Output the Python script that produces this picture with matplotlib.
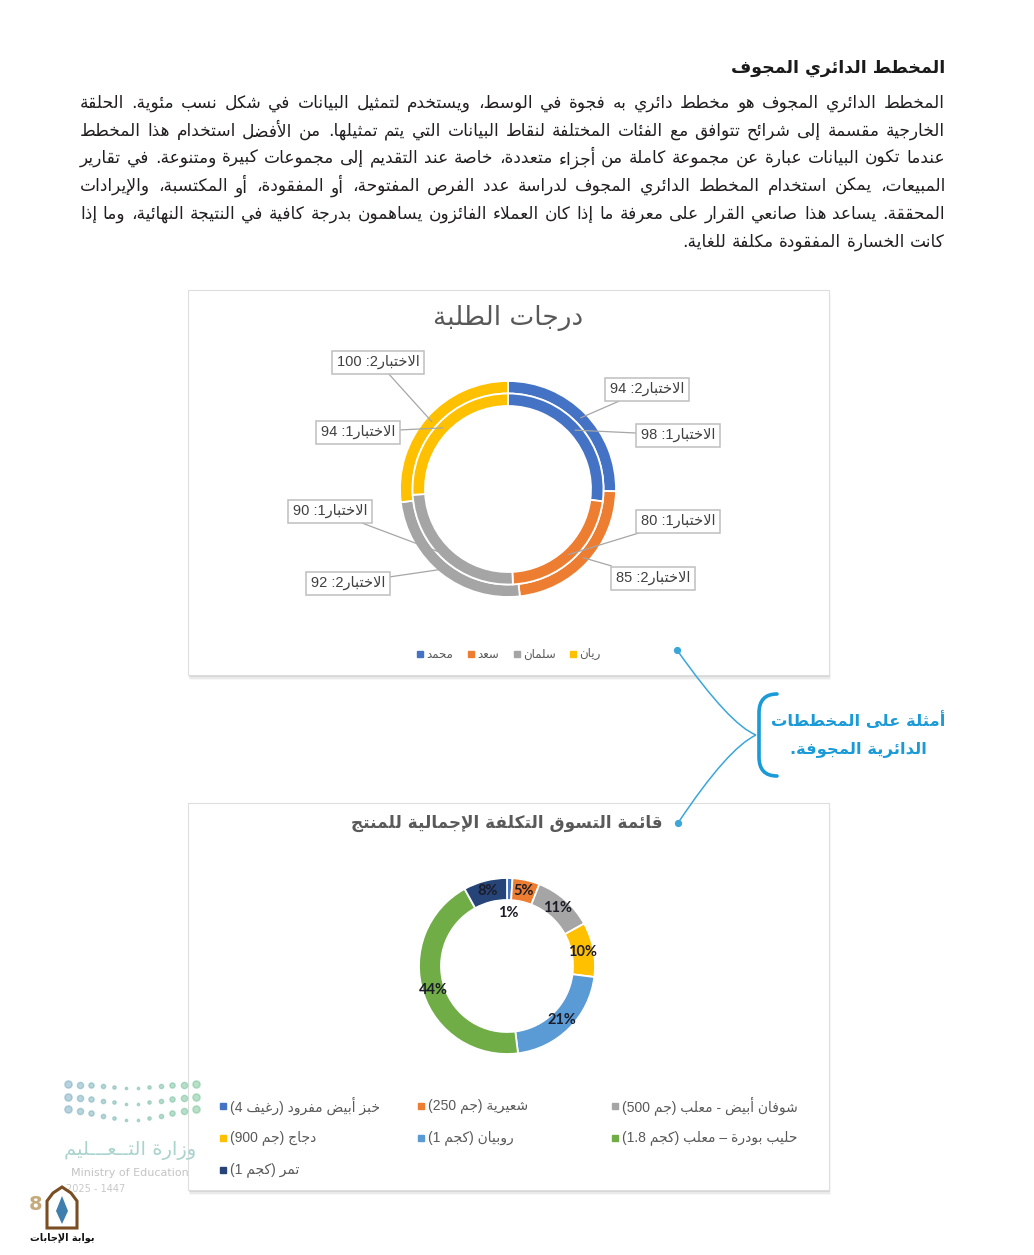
import re
import unicodedata
import numpy as np
import matplotlib
matplotlib.use("Agg")
import matplotlib.pyplot as plt
from matplotlib.patches import Rectangle, PathPatch, Polygon
from matplotlib.path import Path
from matplotlib.font_manager import FontProperties

W, H = 1034, 1255

# ---------------- data ----------------
heading = "المخطط الدائري المجوف"
paragraph_lines = [
    "المخطط الدائري المجوف هو مخطط دائري به فجوة في الوسط، ويستخدم لتمثيل البيانات في شكل نسب مئوية. الحلقة",
    "الخارجية مقسمة إلى شرائح تتوافق مع الفئات المختلفة لنقاط البيانات التي يتم تمثيلها. من الأفضل استخدام هذا المخطط",
    "عندما تكون البيانات عبارة عن مجموعة كاملة من أجزاء متعددة، خاصة عند التقديم إلى مجموعات كبيرة ومتنوعة. في تقارير",
    "المبيعات، يمكن استخدام المخطط الدائري المجوف لدراسة عدد الفرص المفتوحة، أو المفقودة، أو المكتسبة، والإيرادات",
    "المحققة. يساعد هذا صانعي القرار على معرفة ما إذا كان العملاء الفائزون يساهمون بدرجة كافية في النتيجة النهائية، وما إذا",
    "كانت الخسارة المفقودة مكلفة للغاية.",
]

grades_title = "درجات الطلبة"
students = ["محمد", "سعد", "سلمان", "ريان"]
test1 = [98, 80, 90, 94]
test2 = [94, 85, 92, 100]
student_colors = ["#4472C4", "#ED7D31", "#A5A5A5", "#FFC000"]

shopping_title = "قائمة التسوق التكلفة الإجمالية للمنتج"
items = ["خبز أبيض مفرود (رغيف 4)", "شعيرية (جم 250)", "شوفان أبيض - معلب (جم 500)",
         "دجاج (جم 900)", "روبيان (كجم 1)", "حليب بودرة – معلب (كجم 1.8)", "تمر (كجم 1)"]
cost_share = [1, 5, 11, 10, 21, 44, 8]
item_colors = ["#4472C4", "#ED7D31", "#A5A5A5", "#FFC000", "#5B9BD5", "#70AD47", "#264478"]

callout_lines = ["أمثلة على المخططات", "الدائرية المجوفة."]

# ---------------- arabic shaping (no bidi lib available) ----------------
_RJ = dict(zip("آأؤإاةدذرزوى", [0xFE81, 0xFE83, 0xFE85, 0xFE87, 0xFE8D, 0xFE93,
                                0xFEA9, 0xFEAB, 0xFEAD, 0xFEAF, 0xFEED, 0xFEEF]))
_DJ = dict(zip("ئبتثجحخسشصضطظعغفقكلمنهي",
               [0xFE89, 0xFE8F, 0xFE95, 0xFE99, 0xFE9D, 0xFEA1, 0xFEA5, 0xFEB1, 0xFEB5,
                0xFEB9, 0xFEBD, 0xFEC1, 0xFEC5, 0xFEC9, 0xFECD, 0xFED1, 0xFED5, 0xFED9,
                0xFEDD, 0xFEE1, 0xFEE5, 0xFEE9, 0xFEF1]))
_LA = {"آ": 0xFEF5, "أ": 0xFEF7, "إ": 0xFEF9, "ا": 0xFEFB}
_MIRROR = str.maketrans("()", ")(")


def shape(s):
    s = unicodedata.normalize("NFC", s)
    out, prev, i = [], False, 0
    while i < len(s):
        c = s[i]
        nx = s[i + 1] if i + 1 < len(s) else ""
        if c == "ل" and nx in _LA:
            out.append(chr(_LA[nx] + prev))
            prev = False
            i += 2
            continue
        if c in _DJ:
            joins_next = nx in _DJ or nx in _RJ or nx == "ـ"
            out.append(chr(_DJ[c] + prev + 2 * joins_next))
            prev = True
        elif c in _RJ:
            out.append(chr(_RJ[c] + prev))
            prev = False
        elif c == "ـ":
            out.append(c)
            prev = True
        else:
            out.append(c)
            prev = False
        i += 1
    return "".join(out)


def ar(s):
    parts = re.split(r"([0-9][0-9.%]*)", shape(s))
    vis = []
    for p in reversed(parts):
        if re.fullmatch(r"[0-9][0-9.%]*", p):
            vis.append(p)
        else:
            vis.append(p[::-1].translate(_MIRROR))
    return "".join(vis)


def Y(py):
    return H - py


AR = "DejaVu Sans"
LBL = ["Liberation Sans", "DejaVu Sans"]

fig = plt.figure(figsize=(W / 100, H / 100), dpi=100)
ax = fig.add_axes([0, 0, 1, 1])
rend = fig.canvas.get_renderer()


def text_w(s, fp):
    return rend.get_text_width_height_descent(s, fp, ismath=False)[0]


# ---------------- heading + justified paragraph ----------------
ax.text(945, Y(68), ar(heading), ha="right", va="center", fontsize=12.5,
        fontweight="bold", family=AR, color="#1a1a1a")

body = 12.5
fp = FontProperties(family=AR, size=body)
longest = max(text_w(ar(l), fp) for l in paragraph_lines)
if longest > 858:
    body *= 858 / longest
    fp = FontProperties(family=AR, size=body)
space = text_w(" ", fp)
line_y = [103, 131, 158, 186, 214, 242]
for k, line in enumerate(paragraph_lines):
    words = [ar(w) for w in line.split(" ")]
    ws = [text_w(w, fp) for w in words]
    gap = space if k == len(paragraph_lines) - 1 else (865 - sum(ws)) / (len(words) - 1)
    x = 945
    for w, wd in zip(words, ws):
        ax.text(x, Y(line_y[k]), w, ha="right", va="center", fontproperties=fp, color="#231f20")
        x -= wd + gap


# ---------------- cards ----------------
def card(x0, y0, x1, y1):
    for k, a in [(5, 0.03), (3.5, 0.05), (2, 0.08)]:
        ax.add_patch(Rectangle((x0 + k * 0.4, Y(y1) - k), x1 - x0, y1 - y0,
                               fc="k", ec="none", alpha=a, zorder=0.5))
    ax.add_patch(Rectangle((x0, Y(y1)), x1 - x0, y1 - y0, fc="white",
                           ec="#dedede", lw=0.8, zorder=1))


card(188, 290, 829, 675)
card(188, 803, 829, 1190)

# ---------------- chart 1: double ring ----------------
c1 = (508, Y(489))
R1, ring = 108, 12.5
outer, _ = ax.pie(test2, colors=student_colors, radius=R1, center=c1, startangle=90,
                  counterclock=False, frame=True,
                  wedgeprops=dict(width=ring, edgecolor="white", linewidth=1.3, zorder=2))
inner, _ = ax.pie(test1, colors=student_colors, radius=R1 - ring, center=c1, startangle=90,
                  counterclock=False, frame=True,
                  wedgeprops=dict(width=ring, edgecolor="white", linewidth=1.3, zorder=2))


def mid_point(w):
    th = np.deg2rad((w.theta1 + w.theta2) / 2)
    r = w.r - w.width / 2
    return w.center[0] + r * np.cos(th), w.center[1] + r * np.sin(th)


box_t2 = [(647, 389), (653, 578), (348, 583), (378, 362)]
box_t1 = [(678, 435), (678, 521), (330, 511), (358, 432)]
for wedges, vals, k, boxes in [(outer, test2, 2, box_t2), (inner, test1, 1, box_t1)]:
    for w, v, (bx, by) in zip(wedges, vals, boxes):
        ax.annotate(ar(f"الاختبار{k}: {v}"), xy=mid_point(w), xytext=(bx, Y(by)),
                    ha="center", va="center", fontsize=10.5, color="#404040", family=LBL,
                    bbox=dict(boxstyle="square,pad=0.3", fc="white", ec="#bfbfbf", lw=1.1),
                    arrowprops=dict(arrowstyle="-", color="#a6a6a6", lw=0.9,
                                    shrinkA=0, shrinkB=0), zorder=4)

ax.text(508, Y(318), ar(grades_title), ha="center", va="center", fontsize=19,
        family=AR, color="#595959")

leg1_x = [420, 471, 517, 573]
for name, col, lx in zip(students, student_colors, leg1_x):
    ax.plot(lx, Y(654), "s", ms=4, color=col, zorder=4)
    ax.text(lx + 6, Y(654), ar(name), ha="left", va="center", fontsize=8.5,
            family=AR, color="#595959")

# ---------------- chart 2: single ring ----------------
c2 = (507, Y(966))
R2 = 88
w2, _, pcts = ax.pie(cost_share, colors=item_colors, radius=R2, center=c2, startangle=90,
                     counterclock=False, frame=True, autopct=lambda p: f"{p:.0f}%",
                     pctdistance=0.875,
                     wedgeprops=dict(width=22, edgecolor="white", linewidth=1.3, zorder=2),
                     textprops=dict(fontsize=10.5, fontweight="bold", color="#1c1c28",
                                    family=["Lato", "DejaVu Sans"], zorder=4))
th = np.deg2rad((w2[0].theta1 + w2[0].theta2) / 2)
pcts[0].set_position((c2[0] + 0.6 * R2 * np.cos(th), c2[1] + 0.6 * R2 * np.sin(th)))

ax.text(507, Y(823), ar(shopping_title), ha="center", va="center", fontsize=12.2,
        fontweight="bold", family=AR, color="#595959")

col_x = [223, 223, 223, 421, 421, 615, 615]
row_y = [1106, 1138, 1170, 1106, 1138, 1106, 1138]
order = [0, 3, 6, 1, 4, 2, 5]
for j, i in enumerate(order):
    ax.plot(col_x[j], Y(row_y[j]), "s", ms=4, color=item_colors[i], zorder=4)
    ax.text(col_x[j] + 7, Y(row_y[j]), ar(items[i]), ha="left", va="center",
            fontsize=10, family=LBL, color="#595959")

# ---------------- callout ----------------
blue = "#1a9bd7"
light = "#3aa6d9"
br = Path([(777, Y(694)), (759, Y(694)), (759, Y(713)), (759, Y(757)),
           (759, Y(776)), (777, Y(776))],
          [Path.MOVETO, Path.CURVE3, Path.CURVE3, Path.LINETO, Path.CURVE3, Path.CURVE3])
ax.add_patch(PathPatch(br, fc="none", ec=blue, lw=2.6, capstyle="round", zorder=5))
for end, ctrl in [((677, 650), (730, 725)), ((678, 823), (728, 748))]:
    p = Path([(756, Y(735)), (ctrl[0], Y(ctrl[1])), (end[0], Y(end[1]))],
             [Path.MOVETO, Path.CURVE3, Path.CURVE3])
    ax.add_patch(PathPatch(p, fc="none", ec=light, lw=1.1, zorder=5))
    ax.plot(end[0], Y(end[1]), "o", ms=4.2, color=light, zorder=5)
for t, yy in zip(callout_lines, [720, 750]):
    ax.text(858, Y(yy), ar(t), ha="center", va="center", fontsize=11.8,
            fontweight="bold", family=AR, color=blue)

# ---------------- logos ----------------
for row in range(3):
    for col in range(12):
        d = abs(col - 5.5) / 5.5
        x = 68 + col * 11.6
        y = 1084 + row * 12.5 + (1 - d) * 4 * (row + 1)
        colr = np.array([0.45, 0.66, 0.75]) * (1 - col / 11) + np.array([0.45, 0.76, 0.58]) * (col / 11)
        ax.plot(x, Y(y), "o", ms=1.4 + 3.8 * d, color=colr, alpha=0.5, zorder=6)
ax.text(130, Y(1150), ar("وزارة التــعـــليم"), ha="center", va="center", fontsize=14,
        family=AR, color="#a9d3cd", zorder=6)
ax.text(130, Y(1173), "Ministry of Education", ha="center", va="center", fontsize=8,
        family="DejaVu Sans", color="#c4c4c4", zorder=6)
ax.text(66, Y(1189), "2025 - 1447", ha="left", va="center", fontsize=7,
        family="DejaVu Sans", color="#c8c8c8", zorder=6)

ax.text(36, Y(1205), "8", ha="center", va="center", fontsize=14, fontweight="bold",
        color="#c4aa7c", zorder=6)
arch = [(47, 1228), (47, 1201), (53, 1193), (62, 1187), (71, 1193), (77, 1201), (77, 1228)]
ax.add_patch(Polygon([(x, Y(y)) for x, y in arch], closed=True, fc="white",
                     ec="#7a4e22", lw=2.2, zorder=7))
nib = [(62, 1196), (56, 1211), (62, 1224), (68, 1211)]
ax.add_patch(Polygon([(x, Y(y)) for x, y in nib], closed=True, fc="#3f7fae",
                     ec="none", zorder=8))
ax.text(62, Y(1238), ar("بوابة الإجابات"), ha="center", va="center", fontsize=7,
        fontweight="bold", family=AR, color="#111111", zorder=8)

ax.set_xlim(0, W)
ax.set_ylim(0, H)
ax.set_aspect("auto")
ax.axis("off")
fig.savefig("out.png", dpi=100, facecolor="white")
